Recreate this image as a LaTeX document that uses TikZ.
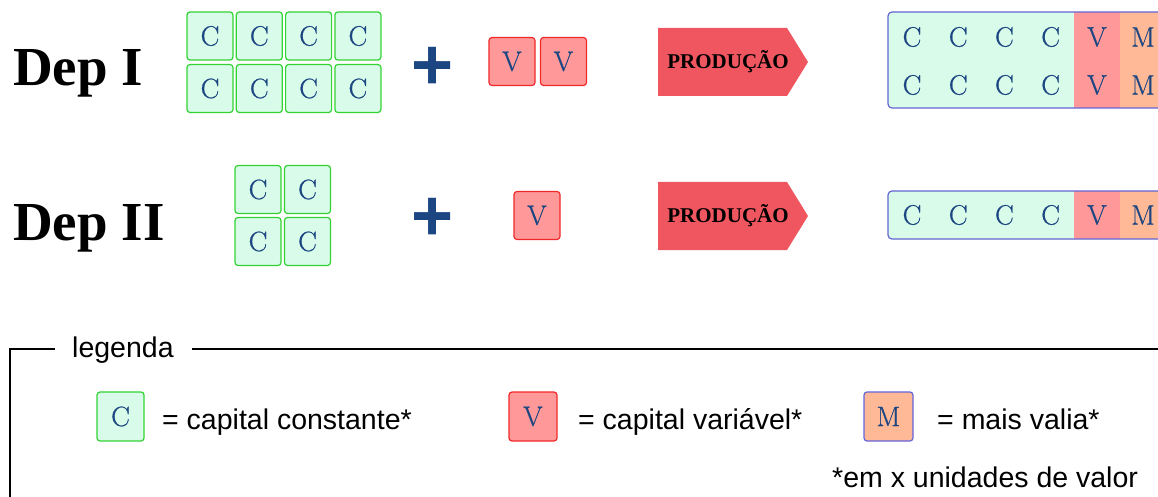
\documentclass[tikz,border=0pt]{standalone}
\usepackage{fontspec}
\newfontfamily\headfont{Liberation Serif}
\newfontfamily\labelfont{Liberation Sans}
\newfontfamily\boxfont{Latin Modern Roman}[FakeBold=0.7]

\definecolor{cfill}{RGB}{217,252,234}
\definecolor{cline}{RGB}{50,210,50}
\definecolor{vfill}{RGB}{255,153,153}
\definecolor{vline}{RGB}{240,40,40}
\definecolor{mfill}{RGB}{255,185,150}
\definecolor{mline}{RGB}{100,100,220}
\definecolor{barline}{RGB}{100,100,210}
\definecolor{prodred}{RGB}{240,86,95}
\definecolor{ink}{RGB}{28,70,130}

\tikzset{
  unitbox/.style={rounded corners=3pt, line width=1.2pt, inner sep=0pt,
    minimum width=46pt, minimum height=48pt, text=ink,
    font=\boxfont\fontsize{28}{30}\selectfont},
  cbox/.style={unitbox, draw=cline, fill=cfill},
  vbox/.style={unitbox, draw=vline, fill=vfill},
  mbox/.style={unitbox, draw=mline, fill=mfill},
  glyph/.style={inner sep=0pt, text=ink, font=\boxfont\fontsize{28}{30}\selectfont},
  deplabel/.style={inner sep=0pt, anchor=base west,
    font=\headfont\bfseries\fontsize{55}{60}\selectfont},
  plussign/.style={inner sep=0pt, text=ink,
    font=\labelfont\bfseries\fontsize{72}{72}\selectfont},
  prodtext/.style={inner sep=0pt, font=\headfont\bfseries\fontsize{21}{24}\selectfont},
  legtext/.style={inner sep=0pt, anchor=base west,
    font=\labelfont\fontsize{28.5}{30}\selectfont},
  bar/.style={draw=barline, line width=1.2pt, rounded corners=4pt},
}

\begin{document}
\begin{tikzpicture}[x=1pt,y=-1pt]
\useasboundingbox (0,0) rectangle (1158,497);
\clip (0,0) rectangle (1158,497);

% ---------- Departamento I ----------
\node[deplabel] (dep1) at (13,86) {Dep I};
\foreach \i in {0,...,3}{
  \node[cbox] (c1a\i) at ({210+49.3*\i},36) {C};
  \node[cbox] (c1b\i) at ({210+49.3*\i},88.5) {C};
}
\node[plussign] (plus1) at (433,68) {+};
\node[vbox] (v1a) at (512,61.5) {V};
\node[vbox] (v1b) at (563.5,61.5) {V};
\fill[prodred] (658,28) -- (787,28) -- (808,62) -- (787,96) -- (658,96) -- cycle;
\node[prodtext] (prod1) at (728,62) {PRODUÇÃO};

% product of Dep I
\fill[cfill, rounded corners=4pt] (888,12) rectangle (1166,108);
\fill[vfill] (1074,12) rectangle (1120,108);
\fill[mfill] (1120,12) rectangle (1166,108);
\draw[bar] (888,12) rectangle (1166,108);
\foreach \i in {0,...,3}{
  \node[glyph] (r1a\i) at ({912+46.2*\i},37) {C};
  \node[glyph] (r1b\i) at ({912+46.2*\i},85) {C};
}
\node[glyph] (r1va) at (1097,37) {V};
\node[glyph] (r1vb) at (1097,85) {V};
\node[glyph] (r1ma) at (1143,37) {M};
\node[glyph] (r1mb) at (1143,85) {M};

% ---------- Departamento II ----------
\node[deplabel] (dep2) at (13,240) {Dep II};
\foreach \i in {0,1}{
  \node[cbox] (c2a\i) at ({258+49.5*\i},189.5) {C};
  \node[cbox] (c2b\i) at ({258+49.5*\i},241.5) {C};
}
\node[plussign] (plus2) at (433,219) {+};
\node[vbox] (v2) at (537,215.5) {V};
\fill[prodred] (658,182) -- (787,182) -- (808,216) -- (787,250) -- (658,250) -- cycle;
\node[prodtext] (prod2) at (728,216) {PRODUÇÃO};

% product of Dep II
\fill[cfill, rounded corners=4pt] (888,191) rectangle (1166,239);
\fill[vfill] (1074,191) rectangle (1120,239);
\fill[mfill] (1120,191) rectangle (1166,239);
\draw[bar] (888,191) rectangle (1166,239);
\foreach \i in {0,...,3}{
  \node[glyph] (r2\i) at ({912+46.2*\i},215) {C};
}
\node[glyph] (r2v) at (1097,215) {V};
\node[glyph] (r2m) at (1143,215) {M};

% ---------- legenda ----------
\draw[line width=1.5pt] (10,510) -- (10,349) -- (55,349);
\draw[line width=1.5pt] (192,349) -- (1170,349);
\node[legtext] (legtitle) at (72,357) {legenda};

\node[cbox, minimum width=47pt, minimum height=49pt] (legc) at (120.5,416.5) {C};
\node[legtext] (legctext) at (162,429) {= capital constante*};
\node[vbox, minimum width=48pt, minimum height=49pt] (legv) at (533,416.5) {V};
\node[legtext] (legvtext) at (578,429) {= capital variável*};
\node[mbox, minimum width=49pt, minimum height=49pt] (legm) at (888.5,416.5) {M};
\node[legtext] (legmtext) at (937,429) {= mais valia*};
\node[legtext] (legnote) at (832,487) {*em x unidades de valor};
\end{tikzpicture}
\end{document}
